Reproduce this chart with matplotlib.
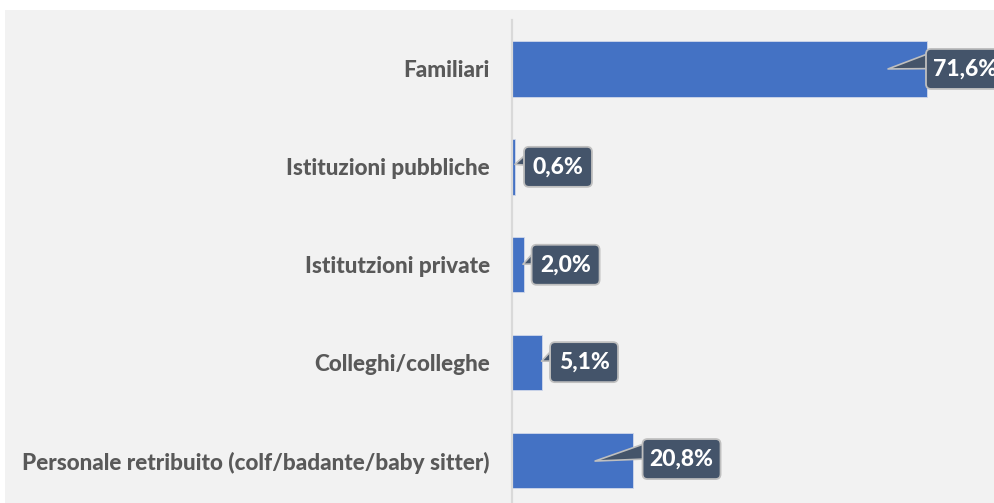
import matplotlib.pyplot as plt
from matplotlib.patches import Rectangle, FancyBboxPatch
from matplotlib.transforms import ScaledTranslation

categories = ["Familiari", "Istituzioni pubbliche", "Istitutzioni private",
              "Colleghi/colleghe", "Personale retribuito (colf/badante/baby sitter)"]
values = [71.6, 0.6, 2.0, 5.1, 20.8]
labels = ["71,6%", "0,6%", "2,0%", "5,1%", "20,8%"]

# callout placement in pixels relative to the bar end (x right, y down):
# (tip dx, tip dy, box centre dx, box centre dy)
callouts = [(-39, 0, 38, 0), (-0.5, -2.5, 42.5, 0), (-0.6, -0.5, 42, 0),
            (0, -1.5, 42.5, -0.5), (-37.5, 0.5, 49, -1.5)]

plt.rcParams['font.family'] = ['Lato', 'DejaVu Sans']

fig = plt.figure(figsize=(9.95, 5.03), dpi=100)
fig.patches.append(Rectangle((5 / 995, 0), 1, (503 - 10) / 503, transform=fig.transFigure,
                             facecolor="#f2f2f2", edgecolor="none", zorder=-5))

ax = fig.add_axes([512 / 995, 0, 1 - 512 / 995, (503 - 20) / 503])
ax.patch.set_visible(False)

ypos = list(range(len(categories)))
ax.barh(ypos, values, height=0.565, color="#4472c4", edgecolor="#d0d8ea", linewidth=0.6, zorder=2)

ax.set_xlim(0, (995 - 512) / 5.796)
ax.set_ylim(-0.5 + (503 - 20) / 97.9, -0.5)

for s in ["top", "right", "bottom"]:
    ax.spines[s].set_visible(False)
ax.spines["left"].set_color("#d9d9d9")
ax.spines["left"].set_linewidth(1.6)
ax.set_xticks([])
ax.set_yticks(ypos)
ax.set_yticklabels(categories, fontsize=16.2, fontweight=900, color="#595959")
ax.tick_params(axis="y", length=0, pad=16)


def px(dx, dy):
    # data point shifted by a pixel offset (y down)
    return ax.transData + ScaledTranslation(dx / 100, -dy / 100, fig.dpi_scale_trans)


for i, (v, lab) in enumerate(zip(values, labels)):
    tdx, tdy, bdx, bdy = callouts[i]
    w = 28 + 10 * len(lab)
    h = 40
    # pointer
    ax.annotate("", xy=(v, i), xycoords=px(tdx, tdy),
                xytext=(v, i), textcoords=px(bdx - w / 2 + 10, bdy - 9),
                arrowprops=dict(arrowstyle="wedge,tail_width=0.7,shrink_factor=0.5",
                                fc="#44546a", ec="#bfbfbf", lw=1.2, mutation_scale=18,
                                shrinkA=0, shrinkB=0),
                annotation_clip=False, zorder=4)
    # box
    box = FancyBboxPatch(((bdx - w / 2) / 100, (-bdy - h / 2) / 100), w / 100, h / 100,
                         boxstyle="round,pad=0,rounding_size=0.05",
                         fc="#44546a", ec="#bfbfbf", lw=1.3, zorder=5, clip_on=False,
                         transform=fig.dpi_scale_trans + ScaledTranslation(v, i, ax.transData))
    ax.add_patch(box)
    ax.annotate(lab, xy=(v, i), xytext=(bdx, -bdy), textcoords="offset pixels",
                ha="center", va="center", fontsize=16.5, fontweight=900, color="white",
                annotation_clip=False, zorder=6)

fig.savefig("out.png", dpi=100)
